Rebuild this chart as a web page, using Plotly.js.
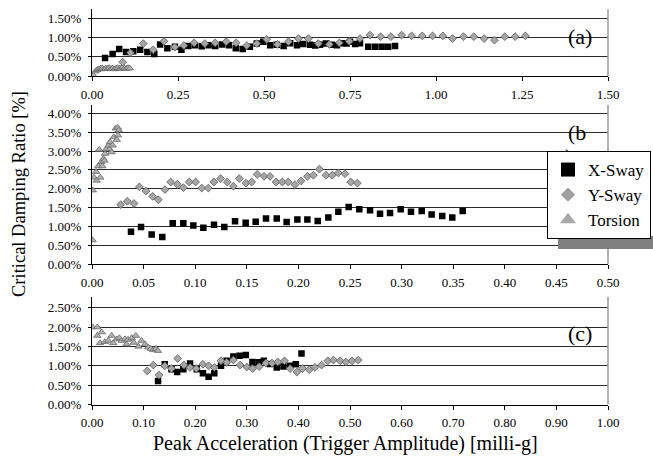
<!DOCTYPE html>
<html>
<head>
<meta charset="utf-8">
<script src="https://cdn.plot.ly/plotly-3.0.1.min.js"></script>
<style>html,body{margin:0;padding:0;background:#fff;}</style>
</head>
<body>
<div id="chart" style="width:653px;height:456px;"></div>
<script>
// ---------- Panel (a) ----------
const aXSwayX = [0.038,0.060,0.079,0.099,0.120,0.140,0.161,0.181,0.198,0.219,0.241,0.260,0.280,0.299,0.319,0.339,0.358,0.378,0.398,0.418,0.438,0.459,0.479,0.498,0.518,0.537,0.557,0.576,0.596,0.614,0.634,0.649,0.663,0.680,0.697,0.712,0.726,0.740,0.750,0.765,0.779,0.803,0.823,0.842,0.861,0.881];
const aXSwayY = [0.47,0.57,0.70,0.62,0.64,0.68,0.62,0.57,0.82,0.72,0.76,0.68,0.78,0.80,0.77,0.80,0.78,0.82,0.80,0.72,0.70,0.76,0.84,0.89,0.80,0.81,0.78,0.85,0.80,0.83,0.81,0.79,0.81,0.84,0.81,0.80,0.85,0.84,0.89,0.83,0.85,0.76,0.76,0.76,0.76,0.78];
const aYSwayX = [0.089,0.112,0.149,0.178,0.209,0.241,0.267,0.297,0.328,0.358,0.390,0.419,0.450,0.479,0.508,0.539,0.571,0.600,0.629,0.658,0.690,0.719,0.748,0.779,0.808,0.839,0.869,0.900,0.929,0.960,0.990,1.020,1.048,1.080,1.110,1.140,1.170,1.200,1.230,1.260];
const aYSwayY = [0.36,0.60,0.84,0.68,0.90,0.75,0.79,0.86,0.84,0.86,0.89,0.86,0.79,0.84,0.95,0.82,0.89,0.97,0.97,0.84,0.82,0.86,0.90,0.97,1.06,1.02,1.02,1.06,1.04,1.04,1.04,1.04,0.97,1.02,1.02,0.97,0.93,1.02,1.02,1.04];
const aTorsionX = [0.003,0.010,0.015,0.020,0.025,0.030,0.035,0.040,0.045,0.050,0.055,0.060,0.065,0.070,0.075,0.080,0.085,0.090,0.095,0.100,0.105,0.110];
const aTorsionY = [0.03,0.12,0.16,0.18,0.19,0.20,0.18,0.20,0.19,0.21,0.19,0.20,0.18,0.20,0.21,0.19,0.20,0.24,0.20,0.19,0.21,0.20];

// ---------- Panel (b) ----------
const bXSwayX = [0.0378,0.0475,0.0578,0.0681,0.0782,0.0885,0.0982,0.1079,0.1182,0.1282,0.1386,0.1489,0.1586,0.1686,0.179,0.1886,0.199,0.2087,0.2187,0.229,0.2387,0.2487,0.259,0.2694,0.2791,0.2888,0.2991,0.3091,0.3195,0.3291,0.3394,0.3491,0.3592];
const bXSwayY = [0.86,0.99,0.79,0.72,1.09,1.09,1.03,0.97,1.05,0.99,1.14,1.10,1.13,1.21,1.21,1.12,1.19,1.19,1.15,1.24,1.39,1.52,1.46,1.43,1.34,1.36,1.46,1.39,1.41,1.32,1.28,1.24,1.41];
const bYSwayX = [0.0278,0.0342,0.0407,0.0459,0.0523,0.0588,0.0643,0.0707,0.0762,0.0827,0.0885,0.0943,0.1004,0.1063,0.1127,0.1182,0.1247,0.1311,0.137,0.1427,0.1492,0.1547,0.160,0.1667,0.1725,0.1783,0.1844,0.1902,0.1967,0.2025,0.2087,0.2145,0.2203,0.2267,0.2328,0.2387,0.2451,0.2507,0.2571];
const bYSwayY = [1.58,1.67,1.61,2.05,1.94,1.80,1.71,1.98,2.18,2.12,2.03,2.18,2.18,2.02,2.02,2.18,2.27,2.18,2.07,2.27,2.15,2.18,2.38,2.33,2.33,2.18,2.18,2.18,2.11,2.21,2.33,2.36,2.52,2.36,2.36,2.42,2.40,2.18,2.15];
const bTorsionX = [0.0006,0.0008,0.002,0.004,0.0045,0.006,0.007,0.008,0.009,0.010,0.011,0.012,0.0126,0.014,0.016,0.017,0.0174,0.019,0.020,0.021,0.023,0.024,0.025,0.0252,0.026];
const bTorsionY = [0.64,1.96,2.30,2.45,2.22,2.60,3.04,2.30,2.71,2.60,2.80,2.75,2.93,3.06,3.15,3.05,3.24,2.97,3.15,3.37,3.60,3.30,3.62,3.42,3.55];

// ---------- Panel (c) ----------
const cXSwayX = [0.128,0.141,0.154,0.165,0.177,0.190,0.203,0.215,0.226,0.237,0.250,0.261,0.274,0.286,0.298,0.311,0.323,0.333,0.345,0.358,0.371,0.384,0.395,0.406];
const cXSwayY = [0.61,1.04,0.91,0.84,0.91,1.06,0.91,0.81,0.72,0.81,1.00,1.13,1.24,1.26,1.28,1.10,1.09,1.13,1.05,0.96,0.98,1.00,1.04,1.32];
const cYSwayX = [0.107,0.119,0.130,0.141,0.154,0.166,0.178,0.190,0.202,0.215,0.226,0.237,0.250,0.261,0.274,0.287,0.300,0.311,0.324,0.337,0.349,0.360,0.373,0.384,0.397,0.408,0.421,0.432,0.445,0.457,0.468,0.481,0.492,0.504,0.516];
const cYSwayY = [0.87,1.02,0.76,1.00,0.93,1.19,1.02,0.96,0.93,1.04,1.00,0.96,1.13,1.09,1.15,1.02,0.97,0.93,0.98,1.07,1.07,1.10,1.13,0.93,0.84,0.93,0.90,0.96,1.02,1.13,1.15,1.13,1.10,1.13,1.15];
const cTorsionX = [0.0013,0.0103,0.0103,0.0155,0.0188,0.025,0.0316,0.038,0.041,0.0478,0.053,0.0575,0.064,0.067,0.070,0.077,0.081,0.085,0.090,0.096,0.103,0.109,0.114,0.119,0.124,0.128];
const cTorsionY = [2.00,2.00,1.78,1.59,1.87,1.62,1.65,1.78,1.59,1.69,1.72,1.65,1.69,1.56,1.68,1.72,1.60,1.78,1.50,1.65,1.56,1.48,1.44,1.41,1.44,1.39];

const seriesNames = ["X-Sway","Y-Sway","Torsion"];
const panelLabels = ["(a)","(b","(c)"];
const panelBLabelTail = [")"];
const yTitle = "Critical Damping Ratio [%]";
const xTitle = "Peak Acceleration (Trigger Amplitude) [milli-g]";

const FONT = "Liberation Serif";
const sqM = {symbol:"square", size:6.5, color:"#000000", line:{width:0}};
const diM = {symbol:"diamond", size:6, color:"#a6a6a6", line:{width:0.8, color:"#5a5a5a"}};
const trM = {symbol:"triangle-up", size:6.5, color:"#b0b0b0", line:{width:0.8, color:"#6a6a6a"}};

function sc(x, y, m, xa, ya) {
  return {type:"scatter", mode:"markers", x:x, y:y, marker:m, xaxis:xa, yaxis:ya, showlegend:false, hoverinfo:"skip"};
}
const traces = [
  sc(aTorsionX, aTorsionY, trM, "x", "y"),
  sc(aXSwayX, aXSwayY, sqM, "x", "y"),
  sc(aYSwayX, aYSwayY, diM, "x", "y"),
  sc(bTorsionX, bTorsionY, trM, "x2", "y2"),
  sc(bXSwayX, bXSwayY, sqM, "x2", "y2"),
  sc(bYSwayX, bYSwayY, diM, "x2", "y2"),
  sc(cTorsionX, cTorsionY, trM, "x3", "y3"),
  sc(cXSwayX, cXSwayY, sqM, "x3", "y3"),
  sc(cYSwayX, cYSwayY, diM, "x3", "y3")
];
// tail of the "(b)" label, partly hidden behind the legend (plot layer, under the legend)
traces.push({type:"scatter", mode:"text", x:[0.462], y:[2.80], text:panelBLabelTail, xaxis:"x2", yaxis:"y2",
  textfont:{family:FONT, size:22, color:"#000"}, showlegend:false, hoverinfo:"skip", cliponaxis:false});
// legend entries
const legM = [
  {symbol:"square", size:14, color:"#000000", line:{width:0}},
  {symbol:"diamond", size:11, color:"#a0a0a0", line:{width:0}},
  {symbol:"triangle-up", size:14, color:"#a8a8a8", line:{width:0}}
];
seriesNames.forEach((n,i)=>{
  traces.push({type:"scatter", mode:"markers", x:[null], y:[null], name:n, marker:legM[i], xaxis:"x2", yaxis:"y2", showlegend:true});
});

const tickFont = {family:FONT, size:13, color:"#000"};
function xax(anchor, range, dtick) {
  return {anchor:anchor, domain:[0,1], range:range, dtick:dtick, tick0:0, tickformat:".2f",
    showgrid:false, zeroline:false, showline:true, linecolor:"#000", linewidth:1,
    ticks:"outside", ticklen:4, tickcolor:"#000", tickwidth:1, tickfont:tickFont, ticklabelstandoff:2, fixedrange:true};
}
function yax(anchor, domain, range) {
  return {anchor:anchor, domain:domain, range:range, dtick:0.5, tick0:0, tickformat:".2f", ticksuffix:"%",
    showgrid:true, gridcolor:"#2a2a2a", gridwidth:1, zeroline:false, showline:true, linecolor:"#000", linewidth:1,
    ticks:"outside", ticklen:3, tickcolor:"#000", tickwidth:1, tickfont:tickFont, ticklabelstandoff:4, fixedrange:true};
}

const H = 456;
const py = v => 1 - v / H;   // pixel row to paper fraction
const px = v => (v - 92) / 516;

function whiteBox(y0, y1) {
  return {type:"rect", xref:"paper", yref:"paper", x0:px(556), x1:px(605), y0:py(y1), y1:py(y0),
    fillcolor:"#fff", line:{width:0}, layer:"between"};
}

const layout = {
  width:653, height:456,
  margin:{l:92, r:45, t:0, b:0, autoexpand:false},
  paper_bgcolor:"#fff", plot_bgcolor:"#fff",
  font:{family:FONT, color:"#000"},
  xaxis: xax("y", [0,1.5], 0.25),
  yaxis: yax("x", [py(76), py(9.3)], [0,1.73]),
  xaxis2: xax("y2", [0,0.5], 0.05),
  yaxis2: yax("x2", [py(264.3), py(105)], [0,4.22]),
  xaxis3: xax("y3", [0,1.0], 0.1),
  yaxis3: yax("x3", [py(404.5), py(297)], [0,2.78]),
  showlegend:true,
  legend:{x:px(547), y:py(151), xanchor:"left", yanchor:"top", bgcolor:"#fff", bordercolor:"#000", borderwidth:1,
    font:{family:FONT, size:17, color:"#000"}, tracegroupgap:0, itemwidth:30},
  shapes:[
    whiteBox(22, 53),
    whiteBox(116, 175),
    whiteBox(315, 353),
    {type:"line", xref:"paper", x0:1, x1:1, yref:"y domain", y0:0, y1:1, line:{color:"#999", width:1.5}},
    {type:"line", xref:"paper", x0:1, x1:1, yref:"y2 domain", y0:0, y1:1, line:{color:"#999", width:1.5}},
    {type:"line", xref:"paper", x0:1, x1:1, yref:"y3 domain", y0:0, y1:1, line:{color:"#999", width:1.5}},
    {type:"rect", xref:"paper", yref:"paper", x0:px(558), x1:px(700), y0:py(249), y1:py(236), fillcolor:"#808080", line:{width:0}, layer:"above"}
  ],
  annotations:[
    {text:panelLabels[0], xref:"paper", yref:"paper", x:px(580), y:py(36), xanchor:"center", yanchor:"middle", showarrow:false,
      font:{family:FONT, size:22, color:"#000"}},
    {text:panelLabels[1], xref:"paper", yref:"paper", x:px(577), y:py(132), xanchor:"center", yanchor:"middle", showarrow:false,
      font:{family:FONT, size:22, color:"#000"}},
    {text:panelLabels[2], xref:"paper", yref:"paper", x:px(580), y:py(333), xanchor:"center", yanchor:"middle", showarrow:false,
      font:{family:FONT, size:22, color:"#000"}},
    {text:yTitle, xref:"paper", yref:"paper", x:px(19), y:py(194), xanchor:"center", yanchor:"middle", textangle:-90, showarrow:false,
      font:{family:FONT, size:18.5, color:"#000"}},
    {text:xTitle, xref:"paper", yref:"paper", x:px(345), y:py(443), xanchor:"center", yanchor:"middle", showarrow:false,
      font:{family:FONT, size:20, color:"#000"}}
  ]
};

Plotly.newPlot("chart", traces, layout, {displayModeBar:false, staticPlot:true});
</script>
</body>
</html>
